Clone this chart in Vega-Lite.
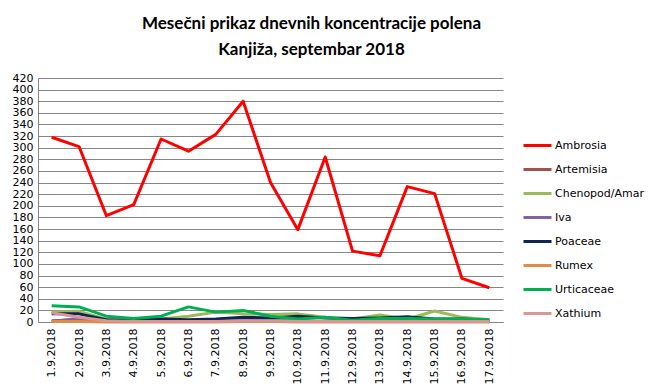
{
  "$schema": "https://vega.github.io/schema/vega-lite/v6.json",
  "width": 465,
  "height": 244,
  "autosize": "none",
  "padding": {"left": 38, "top": 78, "right": 152, "bottom": 69},
  "background": "white",
  "title": {
    "text": ["Mesečni prikaz dnevnih koncentracije polena", "Kanjiža, septembar 2018"],
    "font": "Lato",
    "fontSize": 17,
    "fontWeight": "bold",
    "color": "#000000",
    "anchor": "middle",
    "frame": "group",
    "dx": 41,
    "offset": 13,
    "lineHeight": 26
  },
  "data": {
    "values": [
      {"d": "1.9.2018", "Ambrosia": 318, "Artemisia": 2, "Chenopod/Amar": 17, "Iva": 1, "Poaceae": 14, "Rumex": 1, "Urticaceae": 28, "Xathium": 16},
      {"d": "2.9.2018", "Ambrosia": 302, "Artemisia": 4, "Chenopod/Amar": 18, "Iva": 6, "Poaceae": 14, "Rumex": 1, "Urticaceae": 26, "Xathium": 8},
      {"d": "3.9.2018", "Ambrosia": 183, "Artemisia": 1, "Chenopod/Amar": 5, "Iva": 2, "Poaceae": 4, "Rumex": 0, "Urticaceae": 10, "Xathium": 2},
      {"d": "4.9.2018", "Ambrosia": 202, "Artemisia": 1, "Chenopod/Amar": 4, "Iva": 1, "Poaceae": 3, "Rumex": 0, "Urticaceae": 6, "Xathium": 1},
      {"d": "5.9.2018", "Ambrosia": 315, "Artemisia": 1, "Chenopod/Amar": 5, "Iva": 1, "Poaceae": 5, "Rumex": 0, "Urticaceae": 10, "Xathium": 1},
      {"d": "6.9.2018", "Ambrosia": 294, "Artemisia": 1, "Chenopod/Amar": 10, "Iva": 1, "Poaceae": 4, "Rumex": 0, "Urticaceae": 26, "Xathium": 1},
      {"d": "7.9.2018", "Ambrosia": 323, "Artemisia": 1, "Chenopod/Amar": 17, "Iva": 1, "Poaceae": 5, "Rumex": 0, "Urticaceae": 17, "Xathium": 1},
      {"d": "8.9.2018", "Ambrosia": 380, "Artemisia": 2, "Chenopod/Amar": 14, "Iva": 3, "Poaceae": 8, "Rumex": 1, "Urticaceae": 20, "Xathium": 2},
      {"d": "9.9.2018", "Ambrosia": 240, "Artemisia": 2, "Chenopod/Amar": 13, "Iva": 3, "Poaceae": 7, "Rumex": 1, "Urticaceae": 10, "Xathium": 2},
      {"d": "10.9.2018", "Ambrosia": 159, "Artemisia": 1, "Chenopod/Amar": 14, "Iva": 2, "Poaceae": 10, "Rumex": 0, "Urticaceae": 5, "Xathium": 1},
      {"d": "11.9.2018", "Ambrosia": 284, "Artemisia": 1, "Chenopod/Amar": 8, "Iva": 1, "Poaceae": 7, "Rumex": 0, "Urticaceae": 8, "Xathium": 1},
      {"d": "12.9.2018", "Ambrosia": 122, "Artemisia": 1, "Chenopod/Amar": 5, "Iva": 1, "Poaceae": 6, "Rumex": 0, "Urticaceae": 3, "Xathium": 1},
      {"d": "13.9.2018", "Ambrosia": 114, "Artemisia": 1, "Chenopod/Amar": 12, "Iva": 1, "Poaceae": 7, "Rumex": 0, "Urticaceae": 6, "Xathium": 1},
      {"d": "14.9.2018", "Ambrosia": 233, "Artemisia": 1, "Chenopod/Amar": 5, "Iva": 1, "Poaceae": 9, "Rumex": 0, "Urticaceae": 6, "Xathium": 1},
      {"d": "15.9.2018", "Ambrosia": 221, "Artemisia": 1, "Chenopod/Amar": 19, "Iva": 1, "Poaceae": 5, "Rumex": 0, "Urticaceae": 5, "Xathium": 1},
      {"d": "16.9.2018", "Ambrosia": 75, "Artemisia": 1, "Chenopod/Amar": 8, "Iva": 1, "Poaceae": 5, "Rumex": 0, "Urticaceae": 5, "Xathium": 1},
      {"d": "17.9.2018", "Ambrosia": 59, "Artemisia": 1, "Chenopod/Amar": 4, "Iva": 1, "Poaceae": 3, "Rumex": 0, "Urticaceae": 4, "Xathium": 1}
    ]
  },
  "transform": [
    {"fold": ["Ambrosia", "Artemisia", "Chenopod/Amar", "Iva", "Poaceae", "Rumex", "Urticaceae", "Xathium"], "as": ["series", "value"]}
  ],
  "mark": {"type": "line", "strokeWidth": 3, "strokeJoin": "round"},
  "encoding": {
    "x": {
      "field": "d",
      "type": "ordinal",
      "sort": null,
      "scale": {"paddingInner": 0, "paddingOuter": 0.5},
      "axis": {
        "title": null,
        "labelAngle": -90,
        "labelFont": "DejaVu Sans",
        "labelFontSize": 11,
        "labelColor": "#000000",
        "labelPadding": 6,
        "ticks": false,
        "domainColor": "#868686",
        "domainWidth": 1,
        "grid": false
      }
    },
    "y": {
      "field": "value",
      "type": "quantitative",
      "scale": {"domain": [0, 420], "nice": false},
      "axis": {
        "title": null,
        "values": [0, 20, 40, 60, 80, 100, 120, 140, 160, 180, 200, 220, 240, 260, 280, 300, 320, 340, 360, 380, 400, 420],
        "labelOverlap": false,
        "labelBound": false,
        "labelFont": "DejaVu Sans",
        "labelFontSize": 11,
        "labelColor": "#000000",
        "labelPadding": 5,
        "ticks": false,
        "domainColor": "#868686",
        "grid": true,
        "gridColor": "#868686",
        "gridWidth": 1
      }
    },
    "color": {
      "field": "series",
      "type": "nominal",
      "scale": {
        "domain": ["Ambrosia", "Artemisia", "Chenopod/Amar", "Iva", "Poaceae", "Rumex", "Urticaceae", "Xathium"],
        "range": ["#FF0000", "#A0504D", "#9BBB59", "#8064A2", "#0F2454", "#E08C45", "#00B050", "#D99694"]
      },
      "legend": {
        "title": null,
        "orient": "none",
        "legendX": 484,
        "legendY": 52,
        "symbolType": "stroke",
        "symbolSize": 784,
        "symbolStrokeWidth": 3,
        "symbolOffset": 0,
        "labelFont": "DejaVu Sans",
        "labelFontSize": 11,
        "labelColor": "#000000",
        "labelOffset": 2,
        "rowPadding": 2
      }
    }
  },
  "config": {
    "view": {"stroke": null}
  }
}
